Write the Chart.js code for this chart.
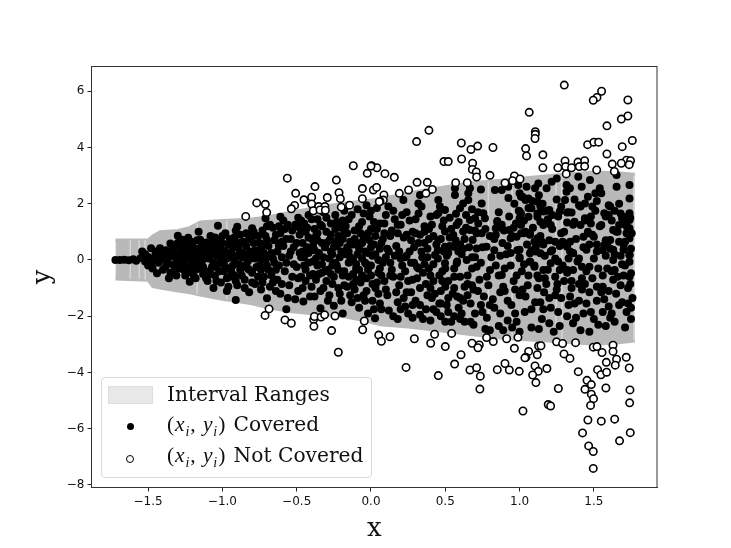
<!DOCTYPE html>
<html>
<head>
<meta charset="utf-8">
<title>Interval coverage</title>
<script src="https://cdn.jsdelivr.net/npm/chart.js@4/dist/chart.umd.js"></script>
<style>
  html, body { margin: 0; padding: 0; background: #fff; }
  #wrap { position: relative; width: 731px; height: 548px; overflow: hidden; }
  #legend { position: absolute; left: 101px; top: 377px; width: 269px; height: 99px; border: 1px solid #d9d9d9; border-radius: 4px; background: rgba(255,255,255,0.85); box-sizing: content-box; }
  #legend .patch { position: absolute; left: 6px; top: 8px; width: 43px; height: 16px; background: #e8e8e8; border: 1px solid #dedede; }
  #legend .dot { position: absolute; left: 25px; width: 7px; height: 7px; border-radius: 50%; background: #000; }
  #legend .ring { position: absolute; left: 24px; width: 6px; height: 6px; border-radius: 50%; background: #fff; border: 1.5px solid #000; }
  #legend .txt { position: absolute; left: 65px; font: 20.2px "DejaVu Serif", serif; color: #111; white-space: nowrap; line-height: 22px; }
  #legend .m { font-family: "Liberation Serif", serif; font-size: 21.5px; letter-spacing: 0.9px; margin-right: 1px; }
  #legend sub { font-size: 14px; line-height: 0; }
</style>
</head>
<body>
<div id="wrap">
  <canvas id="chart" width="731" height="548"></canvas>
  <div id="legend">
    <div class="patch"></div>
    <div class="txt" style="top:5px">Interval Ranges</div>
    <div class="dot" style="top:45px"></div>
    <div class="txt" style="top:35px"><span class="m">(<i>x<sub>i</sub></i>, <i>y<sub>i</sub></i>)</span> Covered</div>
    <div class="ring" style="top:77px"></div>
    <div class="txt" style="top:66px"><span class="m">(<i>x<sub>i</sub></i>, <i>y<sub>i</sub></i>)</span> Not Covered</div>
  </div>
</div>
<script>
// Band edges
const bandX = [-1.72,-1.5,-1.47,-1.42,-1.3,-1.22,-1.15,-1.0,-0.81,-0.68,-0.545,-0.38,-0.21,-0.05,0.06,0.25,0.44,0.67,0.89,1.1,1.3,1.5,1.65,1.776];
const bandUpper = [0.71,0.71,0.85,1.0,1.05,1.15,1.35,1.4,1.45,1.55,1.7,1.85,2.0,2.1,2.17,2.38,2.55,2.74,2.84,2.95,3.05,3.13,3.1,3.05];
const bandLower = [-0.68,-0.72,-0.94,-1.0,-1.1,-1.17,-1.25,-1.4,-1.55,-1.71,-1.83,-1.92,-1.98,-2.15,-2.3,-2.38,-2.5,-2.65,-2.78,-2.85,-2.92,-3.0,-2.95,-2.88];

// Faint light slits in the band: x, low y, high y
const bandSlits = [[-1.62,-0.68,0.7],[-1.56,-0.68,0.7],[-1.52,-0.7,0.7],[-1.17,-1.2,1.3],[-0.97,-1.4,1.4],[-0.7,-1.6,1.5],[0.79,-2.7,2.8],[0.95,-2.8,2.85],[1.245,-2.9,3.0],[1.285,-2.9,3.05],[1.77,-2.85,3.0]];

const xTicks = [-1.5,-1,-0.5,0,0.5,1,1.5];
const yTicks = [-8,-6,-4,-2,0,2,4,6];

// Points outside the band
const notCoveredTop = [[1.301,6.22],[1.552,6.0],[1.521,5.78],[1.496,5.68],[1.729,5.69],[1.065,5.25],[1.729,5.12],[1.685,5.01],[1.588,4.77],[0.39,4.61],[0.307,4.21],[1.106,4.56],[1.106,4.47],[1.104,4.32],[1.759,4.25],[1.458,4.1],[1.5,4.19],[1.532,4.19],[0.608,4.16],[1.691,4.03],[0.718,4.05],[0.673,3.93],[0.821,4.0],[1.041,3.96],[1.047,3.7],[1.157,3.74],[1.588,3.77],[0.61,3.59],[0.491,3.5],[0.52,3.5],[0.684,3.44],[1.306,3.52],[1.393,3.48],[1.438,3.53],[1.72,3.55],[1.747,3.53],[1.685,3.44],[1.624,3.41],[1.738,3.39],[1.157,3.28],[1.258,3.28],[1.31,3.32],[1.35,3.28],[1.402,3.32],[1.438,3.33],[1.519,3.2],[1.638,3.15],[0.682,3.22],[0.709,3.13],[0.711,2.95],[0.801,3.01],[1.314,3.06],[0.004,3.35],[0.04,3.28],[0.094,3.07],[0.157,2.94],[0.965,2.99],[0.953,2.82],[1.003,2.88],[0.902,2.74],[0.57,2.75],[0.648,2.75],[0.31,2.76],[0.379,2.76],[0.413,2.51],[0.37,2.37],[0.253,2.49],[0.191,2.37],[0.016,2.49],[0.038,2.58],[0.087,2.31],[0.083,2.13],[0.061,2.09],[-0.119,3.35],[0,3.34],[-0.025,3.08],[-0.563,2.91],[-0.233,2.84],[-0.377,2.61],[-0.058,2.54],[-0.507,2.37],[-0.215,2.39],[-0.451,2.14],[-0.399,2.23],[-0.294,2.22],[-0.206,2.18],[-0.058,2.18],[0.056,2.07],[-0.769,2.03],[-0.711,1.98],[-0.399,1.99],[-0.514,1.94],[-0.536,1.82],[-0.352,1.9],[-0.31,1.9],[-0.2,1.88],[-0.144,1.95],[-0.388,1.75],[-0.343,1.78],[-0.307,1.77],[-0.702,1.69],[-0.843,1.55]];
const notCoveredBottom = [[-0.686,-1.74],[-0.713,-1.97],[-0.579,-2.13],[-0.536,-2.25],[-0.386,-2.12],[-0.381,-2.01],[-0.384,-2.36],[-0.336,-2.03],[-0.312,-1.95],[-0.242,-1.99],[-0.265,-2.51],[-0.22,-3.28],[-0.045,-2.17],[-0.056,-2.48],[0.052,-2.67],[0.07,-2.89],[0.128,-2.73],[0.236,-3.82],[0.292,-2.8],[0.402,-2.96],[0.428,-2.64],[0.5,-3.08],[0.543,-2.61],[0.453,-4.11],[0.606,-3.37],[0.563,-3.7],[0.68,-2.96],[0.729,-3.02],[0.72,-3.12],[0.666,-3.91],[0.711,-3.83],[0.736,-4.13],[0.733,-4.59],[0.778,-2.76],[0.823,-2.9],[0.913,-2.8],[0.989,-2.75],[0.965,-3.14],[0.902,-3.68],[0.85,-3.9],[0.931,-3.91],[0.998,-3.96],[1.023,-5.37],[1.061,-3.25],[1.043,-3.46],[1.036,-3.48],[1.119,-3.37],[1.128,-3.06],[1.144,-3.05],[1.104,-3.77],[1.126,-3.96],[1.184,-3.86],[1.088,-4.09],[1.11,-4.36],[1.193,-5.14],[1.209,-5.19],[1.261,-4.57],[1.249,-2.91],[1.29,-2.97],[1.377,-2.94],[1.299,-3.34],[1.339,-3.5],[1.395,-3.97],[1.454,-4.28],[1.483,-4.43],[1.44,-4.6],[1.483,-4.77],[1.498,-4.93],[1.478,-5.17],[1.46,-5.69],[1.424,-6.15],[1.465,-6.61],[1.496,-6.81],[1.496,-7.41],[1.55,-5.73],[1.64,-5.66],[1.673,-6.43],[1.745,-6.14],[1.496,-3.1],[1.521,-3.08],[1.555,-3.29],[1.629,-3.03],[1.629,-3.25],[1.653,-3.53],[1.718,-3.46],[1.584,-3.64],[1.644,-3.74],[1.738,-3.84],[1.525,-3.9],[1.548,-4.08],[1.586,-3.99],[1.581,-4.55],[1.743,-4.62],[1.741,-5.08]];

// Points inside the band, estimated region by region (the left side is too dense to read one by one)
const coveredLeft = [[-1.72,0],[-1.69,0],[-1.66,0.01],[-1.63,-0.01],[-1.6,0.03],[-1.58,-0.03],[-1.55,0.07],[-1.52,-0.05],[-1.5,0.11],[-1.48,-0.11],[-1.46,0.05],[-1.45,0.19],[-1.43,-0.1],[-1.41,0.02],[-1.39,0.22],[-1.38,-0.22],[-1.36,0.1],[-1.34,0.32],[-1.33,-0.17],[-1.36,-0.65],[-1.31,0.02],[-1.3,0.86],[-1.3,0.24],[-1.29,-0.3],[-1.28,0.45],[-1.27,0.12],[-1.26,-0.12],[-1.25,0.6],[-1.24,-0.42],[-1.23,0.79],[-1.22,0.3],[-1.22,-0.77],[-1.21,-0.05],[-1.2,0.5],[-1.19,-0.6],[-1.18,0.15],[-1.17,0.7],[-1.16,1.0],[-1.16,-0.3],[-1.15,0.4],[-1.14,-0.1],[-1.13,-0.5],[-1.12,0.25],[-1.11,0.62],[-1.1,-0.75],[-1.09,0.05],[-1.08,0.85],[-1.07,-0.25],[-1.06,-1.0],[-1.06,0.45],[-1.05,-0.55],[-1.04,0.15],[-1.03,1.22],[-1.03,0.7],[-1.02,-0.1],[-1.01,-0.8],[-1.0,0.35],[-0.99,-0.4],[-0.98,0.95],[-0.97,-1.1],[-0.97,0.05],[-0.96,0.55],[-0.95,-0.6],[-0.94,0.25],[-0.93,-0.2],[-0.92,0.8],[-0.91,-1.42],[-0.91,1.05],[-0.9,1.18],[-0.9,-0.9],[-0.89,0.4],[-0.88,-0.35],[-0.87,0.1],[-0.86,0.65],[-0.85,-0.7],[-0.84,0.95],[-0.83,-0.05],[-0.82,-1.15],[-0.81,0.3],[-0.8,1.13],[-0.8,-0.45],[-0.79,0.6],[-0.78,-0.85],[-0.77,0.15],[-0.76,0.85],[-0.75,-0.2],[-0.74,-1.05],[-0.74,0.4],[-0.73,1.05],[-0.72,-0.6],[-0.71,1.48],[-0.71,0.0],[-0.7,-1.36],[-0.7,0.7],[-0.69,-0.35],[-0.68,-0.95],[-0.67,0.25],[-0.66,1.15],[-0.65,-0.1],[-0.64,0.9],[-0.63,-0.7],[-0.62,0.5],[-0.61,1.54],[-0.61,-1.2],[-0.6,0.1],[-0.59,1.4],[-0.58,-0.4],[-0.57,-1.75],[-0.57,0.75],[-0.56,1.25],[-0.55,-0.9],[-0.54,0.3],[-0.53,1.05],[-0.52,-0.15],[-0.51,-1.4],[-0.5,0.6],[-0.49,1.5],[-0.49,-0.65]];
const coveredLeft2 = [[-1.54,0.3],[-1.52,0.2],[-1.5,-0.2],[-1.48,0.42],[-1.47,-0.3],[-1.45,0.3],[-1.44,-0.47],[-1.42,0.42],[-1.41,0.15],[-1.4,-0.35],[-1.38,0.35],[-1.37,-0.1],[-1.35,0.59],[-1.35,-0.45],[-1.34,0.15],[-1.33,0.45],[-1.32,-0.35],[-1.31,-0.55],[-1.3,0.6],[-1.29,0.05],[-1.28,-0.15],[-1.27,0.72],[-1.26,0.3],[-1.25,-0.55],[-1.24,0.1],[-1.23,-0.25],[-1.21,0.65],[-1.21,-0.45],[-1.2,0.2],[-1.18,-0.65],[-1.18,0.4],[-1.17,-0.1],[-1.15,0.72],[-1.14,0.15],[-1.13,-0.25],[-1.12,0.5],[-1.11,-0.65],[-1.1,0.35],[-1.09,-0.4],[-1.08,0.2],[-1.07,0.6],[-1.06,-0.1],[-1.05,0.8],[-1.04,-0.75],[-1.03,0.45],[-1.02,-0.4],[-1.01,0.1],[-1.0,0.85],[-0.99,-0.15],[-0.98,0.3],[-0.97,-0.65],[-0.96,-0.95],[-0.95,0.75],[-0.94,-0.4],[-0.93,0.45],[-0.92,0.0],[-0.91,-0.75],[-0.9,0.6],[-0.89,-0.15],[-0.88,0.9],[-0.87,-0.55],[-0.86,0.25],[-0.85,-1.0],[-0.84,0.5],[-0.83,-0.3],[-0.82,0.75],[-0.81,0.05],[-0.8,-0.8],[-0.79,1.0],[-0.78,0.35],[-0.77,-0.25],[-0.76,-0.6],[-0.75,0.6],[-0.74,0.05],[-0.73,-0.8],[-0.72,0.25],[-0.71,0.85],[-0.7,-0.2],[-0.69,0.5],[-0.68,1.25],[-0.67,-0.55],[-0.66,0.05],[-0.65,0.7],[-0.64,-1.1],[-0.63,0.3],[-0.62,-0.2],[-0.61,0.95],[-0.6,-0.85],[-0.59,0.5],[-0.58,1.1],[-0.57,-0.1],[-0.56,-1.35],[-0.55,0.15],[-0.54,0.75],[-0.53,-0.6],[-0.52,0.45],[-0.51,1.25],[-0.5,-0.25],[-0.49,-1.1],[-0.48,0.25],[-0.48,1.15],[-0.6,0.65],[-0.62,1.2],[-0.64,-0.35],[-0.66,-0.8],[-0.68,0.15],[-0.7,1.2],[-0.72,0.55],[-0.74,-0.35],[-0.76,0.3],[-0.78,0.05],[-0.8,0.85],[-0.82,-0.35],[-0.84,0.2],[-0.86,-0.2],[-0.88,0.6],[-0.9,0.15],[-0.92,-0.55],[-0.94,0.6],[-0.96,0.1],[-0.98,-0.25],[-1.0,0.6],[-1.02,0.3],[-1.04,-0.25],[-1.06,0.25],[-1.08,-0.5],[-1.1,0.5],[-1.12,0.05],[-1.14,0.55],[-1.16,0.2],[-1.18,-0.35],[-1.2,-0.2],[-1.22,0.1],[-1.24,0.5],[-1.26,-0.35],[-1.28,0.28]];
const coveredMid = [[-0.48,0.9],[-0.47,0.1],[-0.46,-1.0],[-0.455,-1.48],[-0.45,1.3],[-0.44,-0.35],[-0.43,0.45],[-0.42,1.6],[-0.41,-1.3],[-0.4,0.75],[-0.39,-0.05],[-0.38,1.1],[-0.37,-0.7],[-0.36,1.45],[-0.35,0.25],[-0.34,-1.72],[-0.34,-1.1],[-0.33,0.6],[-0.32,1.7],[-0.31,-0.4],[-0.3,1.0],[-0.29,-1.45],[-0.28,0.05],[-0.27,1.3],[-0.26,-0.85],[-0.25,-1.63],[-0.25,0.45],[-0.24,1.6],[-0.23,-0.2],[-0.22,0.85],[-0.21,-1.2],[-0.2,1.15],[-0.19,-1.9],[-0.19,-0.55],[-0.18,1.75],[-0.17,0.2],[-0.16,-0.95],[-0.15,1.45],[-0.14,0.65],[-0.13,-1.5],[-0.12,0.0],[-0.11,1.05],[-0.1,-0.3],[-0.09,1.8],[-0.08,-1.7],[-0.08,0.4],[-0.07,-0.8],[-0.06,1.35],[-0.05,-1.25],[-0.05,0.8],[-0.04,-0.1],[-0.03,1.95],[-0.02,-1.9],[-0.02,0.25],[-0.01,1.55],[0,-0.55],[0.0,1.1],[0.01,-1.45],[0.02,0.55],[0.027,-2.07],[0.03,-1.0],[0.04,1.85],[0.05,0.0],[0.06,-0.3],[0.06,1.3],[0.07,-1.75],[0.08,0.75],[0.09,-0.75],[0.1,1.6],[0.11,-1.25],[0.117,1.9],[0.12,0.3],[0.13,-0.1],[0.14,1.05],[0.15,-2.0],[0.15,-0.6],[0.16,1.45],[-0.47,-0.6],[-0.44,1.0],[-0.4,-0.95],[-0.38,0.35],[-0.36,-0.2],[-0.33,1.2],[-0.3,-0.75],[-0.28,0.7],[-0.26,-0.2],[-0.24,1.1],[-0.22,-1.0],[-0.2,0.3],[-0.18,-0.4],[-0.16,0.95],[-0.14,-1.25],[-0.12,0.55],[-0.1,-0.7],[-0.08,1.2],[-0.06,0.05],[-0.04,-1.45],[-0.02,0.95],[0.0,-0.2],[0.02,1.35],[0.04,-0.8],[0.06,0.4],[-0.46,0.3],[-0.42,-0.1],[-0.37,0.85],[-0.32,0.1],[-0.27,-0.5],[-0.23,0.5],[-0.19,1.4],[-0.15,-0.1],[-0.11,-1.05],[-0.07,0.6],[-0.03,-0.65],[0.01,0.15],[0.05,-1.2],[0.09,0.95]];
const coveredMid2 = [[-0.47,1.4],[-0.46,0.6],[-0.45,-0.2],[-0.44,-0.75],[-0.43,1.15],[-0.42,0.25],[-0.41,-0.55],[-0.4,1.45],[-0.39,0.5],[-0.38,-1.3],[-0.37,0.05],[-0.36,0.95],[-0.35,-0.5],[-0.34,1.25],[-0.33,-0.15],[-0.32,-1.0],[-0.31,0.45],[-0.3,1.5],[-0.29,-0.35],[-0.28,-1.25],[-0.27,0.9],[-0.26,0.2],[-0.25,-0.6],[-0.24,0.65],[-0.23,1.35],[-0.22,-0.35],[-0.21,0.1],[-0.2,-1.45],[-0.19,0.75],[-0.18,-0.9],[-0.17,1.2],[-0.16,0.45],[-0.15,-0.6],[-0.14,0.1],[-0.13,1.6],[-0.12,-0.85],[-0.11,0.75],[-0.1,-0.15],[-0.09,-1.35],[-0.08,-0.35],[-0.07,0.95],[-0.06,-0.55],[-0.05,1.65],[-0.04,0.3],[-0.03,-1.1],[-0.02,-0.35],[-0.01,0.7],[0.0,1.75],[0.01,-0.85],[0.02,-1.75],[0.03,0.2],[0.04,1.1],[0.05,-0.45],[0.06,-1.55],[0.07,0.6],[0.08,-0.1],[0.09,1.3],[0.1,-1.05],[0.11,0.4],[0.12,-1.8],[0.13,0.85],[0.14,-0.35],[0.15,1.75],[0.16,0.15],[0.17,-1.15],[0.18,1.25],[0.19,0.3],[0.2,-0.6],[0.21,1.6],[0.22,-1.35],[0.23,0.1],[0.24,0.9],[0.25,-0.75],[0.26,1.4],[0.27,-0.1],[0.28,-1.6],[0.29,0.45],[0.3,0.95],[0.31,-0.25],[0.32,1.65],[0.33,-1.0],[0.34,0.3],[0.35,-0.45],[0.36,1.0],[0.37,-1.75],[0.38,0.1],[0.39,0.75],[0.4,-0.55],[0.41,1.25],[0.42,-0.15],[0.43,-1.2],[0.44,1.6],[0.45,0.35],[0.46,-1.55],[0.47,0.75],[0.48,-0.75],[0.49,1.4],[0.5,-0.3],[0.51,0.15],[0.52,-1.85],[0.53,0.5],[0.54,1.1],[0.55,-1.2],[0.56,-0.6],[0.57,0.7],[0.58,-0.05],[0.59,1.35],[0.6,-2.1],[0.61,0.2],[0.62,-1.45],[0.63,0.75],[0.64,1.6],[0.65,-0.55],[0.66,0.45],[0.67,-2.2],[0.68,0.1],[0.69,-1.05],[0.7,1.05],[0.13,-0.55],[0.1,0.1],[0.07,-0.55],[0.03,0.85],[0.0,0.45],[-0.03,-0.15],[-0.06,0.6],[-0.09,0.2],[-0.12,-0.5],[-0.15,0.3],[-0.18,0.95],[-0.21,0.6],[-0.24,-0.1],[-0.27,0.3],[-0.3,0.6],[-0.33,-0.45],[-0.36,0.7],[-0.39,-0.5],[-0.42,0.8],[-0.45,0.1]];
const coveredRight1 = [[0.17,0.5],[0.18,-1.5],[0.19,-0.9],[0.2,0.05],[0.2,1.25],[0.218,2.13],[0.22,0.8],[0.23,-0.4],[0.24,1.7],[0.25,-1.9],[0.26,0.3],[0.27,-1.15],[0.28,1.0],[0.29,-0.1],[0.3,1.45],[0.31,-0.65],[0.319,2.01],[0.32,0.6],[0.33,2.31],[0.33,-1.6],[0.34,1.9],[0.345,0.1],[0.35,-2.1],[0.36,1.2],[0.37,-0.85],[0.38,0.4],[0.39,-0.3],[0.4,1.55],[0.41,-1.35],[0.42,0.85],[0.431,0.18],[0.44,-1.85],[0.453,2.13],[0.453,1.66],[0.453,0.71],[0.46,-0.55],[0.464,1.9],[0.47,-1.1],[0.48,1.2],[0.49,0.3],[0.498,1.78],[0.498,1.01],[0.498,0.47],[0.498,-0.12],[0.51,-1.6],[0.52,-0.75],[0.53,0.8],[0.54,-2.2],[0.554,0.89],[0.554,0.47],[0.565,2.55],[0.565,2.31],[0.572,1.64],[0.576,1.24],[0.577,-0.12],[0.58,-1.3],[0.588,0.3],[0.599,1.84],[0.6,-0.6],[0.61,-1.9],[0.62,2.01],[0.62,1.01],[0.63,-0.95],[0.644,0],[0.655,2.37],[0.655,2.13],[0.666,2.55],[0.666,1.42],[0.666,1.07],[0.67,-1.55],[0.68,-0.3],[0.684,0.71],[0.69,-2.3],[0.7,1.48],[0.711,0.41],[0.711,-0.24],[0.72,-1.1],[0.722,1.3],[0.73,-0.7],[0.74,2.51],[0.745,2.01],[0.745,0.95],[0.75,-1.85],[0.756,1.66],[0.767,1.48],[0.77,-2.45],[0.778,0.47],[0.79,-0.9],[0.801,-0.36],[0.81,0.1],[0.82,-1.4],[0.834,2.49],[0.84,0.9],[0.85,1.35],[0.86,-0.55],[0.87,-1.9],[0.88,2.49],[0.88,-0.53],[0.885,0.6],[0.89,-2.5],[0.895,1.05],[0.9,-1.1],[0.91,0.2],[0.924,2.6],[0.925,2.2],[0.93,1.55],[0.94,-0.2],[0.945,-1.6],[0.95,0.85],[0.96,-0.75],[0.965,2.0],[0.975,1.3],[0.98,-2.2],[0.985,0.35],[0.991,2.67],[0.995,1.75],[1.0,-1.25],[1.01,0.95],[1.015,-0.4],[1.02,2.25],[1.03,1.4],[1.035,-1.85],[1.047,2.6],[1.05,0.55],[1.055,-0.9],[1.06,1.85],[1.07,-0.05],[1.08,-2.4],[1.085,2.1],[1.09,1.15],[1.104,2.55],[1.105,-1.5],[1.11,0.3],[1.12,1.65],[1.126,2.72],[1.13,-0.65],[1.14,0.85],[1.15,-2.1],[1.155,2.0],[1.16,1.3],[1.165,-1.15],[1.17,0.15],[1.182,2.55],[1.185,1.75],[1.19,-0.35],[1.2,0.7],[1.21,-1.7],[1.216,2.78],[1.22,1.1],[1.23,-2.55],[1.24,0.05],[1.25,2.9],[1.25,2.15],[1.255,-0.85],[1.26,1.55],[1.27,0.5],[1.28,-1.35],[1.29,-0.2],[1.3,1.0]];
const coveredRight2 = [[1.306,2.13],[1.316,2.67],[1.316,2.43],[1.32,-2.0],[1.33,1.7],[1.339,2.55],[1.34,0.3],[1.35,-0.75],[1.36,1.25],[1.37,-1.55],[1.38,0.75],[1.39,-0.05],[1.395,2.96],[1.4,1.95],[1.41,-2.5],[1.418,2.6],[1.42,-1.05],[1.43,0.45],[1.44,1.4],[1.45,-0.4],[1.46,2.25],[1.474,2.84],[1.48,-1.85],[1.49,0.9],[1.5,0.05],[1.51,1.75],[1.52,-0.95],[1.53,-2.3],[1.54,2.55],[1.54,1.2],[1.55,2.37],[1.56,0.35],[1.57,-1.4],[1.58,0.7],[1.59,-0.3],[1.6,1.95],[1.61,-2.05],[1.62,1.4],[1.63,-0.7],[1.64,0.2],[1.653,2.6],[1.653,3.02],[1.66,1.0],[1.67,-1.6],[1.68,1.65],[1.69,-0.15],[1.7,0.55],[1.71,-2.4],[1.72,1.2],[1.73,-1.0],[1.74,2.67],[1.74,2.19],[1.74,1.66],[1.74,1.42],[1.74,1.13],[1.74,0.77],[1.74,0.18],[1.74,-0.06],[1.74,-0.6],[1.76,-1.35],[1.75,-2.1],[1.745,1.5],[1.755,0.95],[1.75,0.4],[1.745,-0.85],[1.75,-1.7],[0.18,0.95],[0.21,-0.2],[0.24,0.15],[0.27,0.7],[0.3,-1.45],[0.33,0.9],[0.36,-0.15],[0.39,1.1],[0.42,-0.75],[0.45,0.05],[0.47,-2.0],[0.5,-0.95],[0.53,1.5],[0.56,-0.3],[0.59,-1.7],[0.62,0.4],[0.65,-1.25],[0.68,1.8],[0.71,0.95],[0.74,-0.1],[0.77,1.1],[0.8,-1.6],[0.83,0.35],[0.86,1.7],[0.89,-0.95],[0.92,0.5],[0.95,-2.4],[0.98,-0.55],[1.01,1.65],[1.04,-1.3],[1.07,0.9],[1.1,-0.2],[1.13,2.3],[1.16,-1.75],[1.19,1.45],[1.22,0.35],[1.25,-1.05],[1.28,1.9],[1.31,0.55],[1.34,-1.3],[1.37,2.15],[1.4,0.05],[1.43,-1.9],[1.46,1.0],[1.49,-0.65],[1.52,2.1],[1.55,-1.15],[1.58,1.55],[1.61,0.4],[1.64,-2.2],[1.67,2.0],[1.7,-0.55],[1.72,-1.85],[1.68,0.15],[1.64,1.75],[1.6,-1.1],[1.56,-0.55],[1.52,0.55],[1.48,1.55],[1.44,-0.85],[1.4,-1.45],[1.36,0.25],[1.32,-0.45],[1.28,0.95],[1.24,-0.6],[1.2,-2.25],[1.16,0.55],[1.12,-1.0],[1.08,0.35],[1.04,1.0],[1.0,0.1],[0.96,1.15],[0.92,-1.45],[0.88,1.25],[0.84,-0.2],[0.8,0.85],[0.76,-1.3],[0.72,1.7],[0.68,-0.9],[0.64,1.15],[0.6,0.55],[0.56,-1.0],[0.52,0.25],[0.48,-0.4],[0.44,0.55],[0.4,-1.0],[0.36,0.6],[0.32,-0.3],[0.28,-0.7],[0.24,-1.15],[0.2,-1.75]];
const coveredRight3 = [[1.0,2.37],[1.01,2.25],[1.04,2.13],[1.06,2.19],[1.12,2.07],[1.14,1.9],[1.16,1.72],[1.2,1.78],[1.22,1.6],[1.19,1.42],[1.16,1.24],[1.21,1.24],[1.14,1.36],[1.0,1.72],[1.0,1.48],[1.01,1.24],[1.06,1.54],[1.08,1.84],[1.12,1.54],[0.85,1.39],[0.84,1.13],[0.88,1.13],[0.93,1.07],[0.94,0.77],[0.98,0.83],[1.03,0.95],[1.07,0.95],[1.12,0.77],[1.15,0.65],[1.11,0.47],[1.07,0.24],[1.0,0.36],[1.0,0.06],[1.07,-0.06],[1.1,-0.24],[1.14,0.24],[1.21,0.3],[1.24,0.65],[1.29,0.65],[1.34,0.65],[1.32,0.47],[1.27,1.72],[1.32,1.69],[1.35,1.69],[1.32,1.33],[1.37,1.36],[1.41,1.24],[1.44,1.48],[1.48,1.3],[1.46,0.95],[1.43,0.83],[1.5,0.83],[1.41,1.9],[1.44,2.01],[1.49,1.9],[1.51,2.37],[1.61,1.9],[1.57,1.66],[1.6,1.6],[1.55,1.24],[1.63,1.07],[1.65,1.01],[1.69,1.48],[1.72,1.54],[1.7,1.3],[1.67,1.24],[1.72,0.95],[1.61,0.71],[1.57,0.53],[1.59,0.59],[1.71,0.65],[1.7,0.36],[1.63,0.36],[1.52,0.3],[1.45,0.36],[1.36,0.24],[1.47,-0.24],[1.42,-0.24],[1.36,-0.36],[1.32,-0.36],[1.27,-0.36],[1.21,-0.12],[1.16,-0.36],[1.63,0],[1.64,-0.36],[1.66,-0.6],[1.75,-0.47],[1.74,0.18],[1.12,-0.55],[1.18,-0.85],[1.24,-1.25],[1.3,-0.75],[1.35,-1.0],[1.42,-0.65],[1.47,-1.15],[1.52,-1.45],[1.56,-0.95],[1.6,-1.65],[1.65,-1.2],[1.69,-1.5],[1.73,-1.55],[1.56,-1.85],[1.5,-2.1],[1.45,-1.55],[1.38,-2.05],[1.33,-1.6],[1.26,-1.85],[1.2,-1.35],[1.14,-1.5],[1.08,-1.75],[1.02,-1.05],[0.97,-1.9],[0.92,-2.15],[0.87,-1.15],[0.83,-1.7],[0.78,-2.05],[0.74,-1.6],[0.7,-1.9],[0.65,-0.85],[0.6,-1.35],[0.56,-2.0],[0.52,-1.35],[0.47,-1.55],[0.42,-1.75],[0.38,-1.25],[0.33,-1.95],[0.28,-2.05],[0.23,-1.65],[0.18,-2.1],[0.7,0.1],[0.75,0.45],[0.78,-0.6],[0.83,0.75],[0.87,0.15],[0.9,-0.3],[0.94,0.25],[0.97,-1.05],[1.03,-0.15],[1.06,-0.55],[1.1,0.65],[1.17,-0.65],[1.26,-0.05],[1.33,0.05],[1.4,-0.85],[1.47,0.55],[1.53,-0.3],[1.58,0.15],[1.62,-0.4],[1.67,0.65],[1.71,-0.2],[1.68,-0.9],[1.62,-1.9],[1.58,-2.35],[1.47,-2.55],[1.36,-2.25],[1.27,-2.35],[1.13,-2.45],[1.0,-2.55],[0.86,-2.35],[0.8,-2.5],[0.63,-2.2],[0.5,-2.2],[0.4,-2.15]];

const toPoints = pairs => pairs.map(p => ({ x: p[0], y: p[1] }));
const bandPoints = ys => bandX.map((x, i) => ({ x: x, y: ys[i] }));

const bandGrey = '#b9b9b9';

// each slit is its own short line
const slitSets = bandSlits.map(s => ({
  data: [{ x: s[0], y: s[1] }, { x: s[0], y: s[2] }],
  order: 3,
  showLine: true,
  pointRadius: 0,
  borderColor: 'rgba(255,255,255,0.4)',
  borderWidth: 1.5,
  fill: false
}));

new Chart(document.getElementById('chart'), {
  type: 'scatter',
  data: {
    datasets: [
      {
        label: 'Not Covered',
        data: toPoints(notCoveredTop.concat(notCoveredBottom)),
        order: 1,
        backgroundColor: '#fff',
        borderColor: '#000',
        borderWidth: 1.6,
        pointRadius: 3.7
      },
      {
        label: 'Covered',
        data: toPoints(coveredLeft.concat(coveredLeft2, coveredMid, coveredMid2, coveredRight1, coveredRight2, coveredRight3)),
        order: 2,
        backgroundColor: '#000',
        borderColor: '#000',
        borderWidth: 0,
        pointRadius: 4
      },
      ...slitSets,
      {
        label: 'Upper',
        data: bandPoints(bandUpper),
        order: 4,
        showLine: true,
        pointRadius: 0,
        borderColor: bandGrey,
        borderWidth: 3,
        borderJoinStyle: 'round',
        backgroundColor: bandGrey,
        fill: '+1'
      },
      {
        label: 'Lower',
        data: bandPoints(bandLower),
        order: 5,
        showLine: true,
        pointRadius: 0,
        borderColor: bandGrey,
        borderWidth: 3,
        borderJoinStyle: 'round',
        fill: false
      }
    ]
  },
  options: {
    responsive: false,
    animation: false,
    layout: { padding: { top: 66.5, right: 74, left: 0, bottom: 0 } },
    plugins: { legend: { display: false }, tooltip: { enabled: false } },
    scales: {
      x: {
        type: 'linear',
        min: -1.881,
        max: 1.925,
        afterBuildTicks: scale => { scale.ticks = xTicks.map(v => ({ value: v })); },
        afterFit: scale => { scale.height = 60.5; },
        grid: { display: true, drawOnChartArea: false, drawTicks: true, tickLength: 4, tickColor: '#222' },
        border: { display: true, color: '#333', width: 1 },
        ticks: {
          color: '#111',
          font: { family: 'DejaVu Sans', size: 12 },
          padding: 3,
          maxRotation: 0,
          callback: v => v.toFixed(1).replace('-', '\u2212')
        },
        title: { display: true, text: 'x', color: '#111', font: { family: 'DejaVu Serif', size: 26 }, padding: { top: 0, bottom: 3 } }
      },
      y: {
        type: 'linear',
        min: -8.09,
        max: 6.88,
        afterBuildTicks: scale => { scale.ticks = yTicks.map(v => ({ value: v })); },
        afterFit: scale => { scale.width = 91.5; },
        grid: { display: true, drawOnChartArea: false, drawTicks: true, tickLength: 4, tickColor: '#222' },
        border: { display: true, color: '#333', width: 1 },
        ticks: {
          color: '#111',
          font: { family: 'DejaVu Sans', size: 12 },
          padding: 3,
          callback: v => String(v).replace('-', '\u2212')
        },
        title: { display: true, text: 'y', color: '#111', font: { family: 'DejaVu Serif', size: 26 }, padding: { top: 28, bottom: 0 } }
      }
    }
  },
  plugins: [{
    // top and right spines, the axes only draw left and bottom
    id: 'frame',
    afterDraw(chart) {
      const a = chart.chartArea, c = chart.ctx;
      c.save();
      c.strokeStyle = '#333';
      c.lineWidth = 1;
      c.strokeRect(a.left, a.top, a.right - a.left, a.bottom - a.top);
      c.restore();
    }
  }]
});
</script>
</body>
</html>
